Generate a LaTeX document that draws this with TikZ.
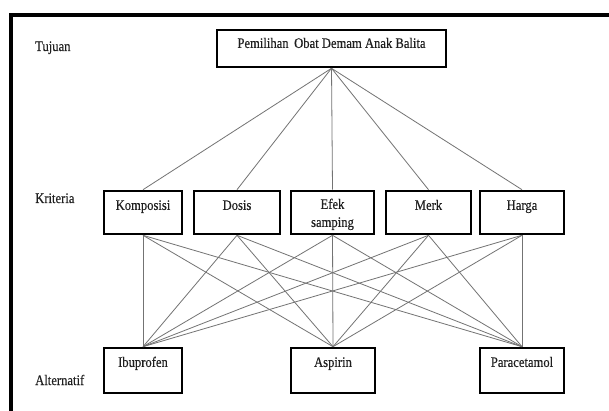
\documentclass[tikz,border=0pt]{standalone}
\usepackage{fontspec}
\setmainfont{Liberation Serif}[FakeStretch=0.87,FakeBold=0.3]
\begin{document}
\begin{tikzpicture}[x=1pt,y=-1pt,
  every node/.style={font=\fontsize{14.5}{17}\selectfont, text=black!88},
  boxnode/.style={draw=black, line width=2.6pt, inner sep=0pt},
  conn/.style={draw=black!55, line width=0.8pt},
  lbl/.style={anchor=base west, inner sep=0pt}]
\useasboundingbox (0,0) rectangle (609,411);
\fill[white] (0,0) rectangle (609,411);
% frame
\draw[line width=4pt] (11,415) -- (11,15.5) -- (615,15.5);
% labels
\node[lbl] (lt) at (35,51) {Tujuan};
\node[lbl] (lk) at (35,203) {Kriteria};
\node[lbl] (la) at (35,385) {Alternatif};
% goal
\node[boxnode] (g) at (331.5,48.5) {\parbox[c][37pt][t]{229pt}{\centering\vspace*{6pt}\strut Pemilihan\, Obat Demam Anak Balita}};
% criteria
\node[boxnode] (k1) at (143,212.5) {\parbox[c][43pt][t]{78pt}{\centering\vspace*{7pt}\strut Komposisi}};
\node[boxnode] (k2) at (237,212.5) {\parbox[c][43pt][t]{86pt}{\centering\vspace*{7pt}\strut Dosis}};
\node[boxnode] (k3) at (332.5,212.5) {\parbox[c][43pt][t]{83pt}{\centering\vspace*{6pt}\strut Efek\\[1pt] samping}};
\node[boxnode] (k4) at (428.5,212.5) {\parbox[c][43pt][t]{85pt}{\centering\vspace*{7pt}\strut Merk}};
\node[boxnode] (k5) at (522,212.5) {\parbox[c][43pt][t]{84pt}{\centering\vspace*{7pt}\strut Harga}};
% alternatives
\node[boxnode] (a1) at (143,370.5) {\parbox[c][45pt][t]{78pt}{\centering\vspace*{7pt}\strut Ibuprofen}};
\node[boxnode] (a2) at (333,370.5) {\parbox[c][45pt][t]{84pt}{\centering\vspace*{7pt}\strut Aspirin}};
\node[boxnode] (a3) at (522,370.5) {\parbox[c][45pt][t]{84pt}{\centering\vspace*{7pt}\strut Paracetamol}};
% connectors
\foreach \k in {k1,k2,k3,k4,k5} {
  \draw[conn] (g.south) -- (\k.north);
  \foreach \a in {a1,a2,a3} {
    \draw[conn] (\k.south) -- (\a.north);
  }
}
\end{tikzpicture}
\end{document}
